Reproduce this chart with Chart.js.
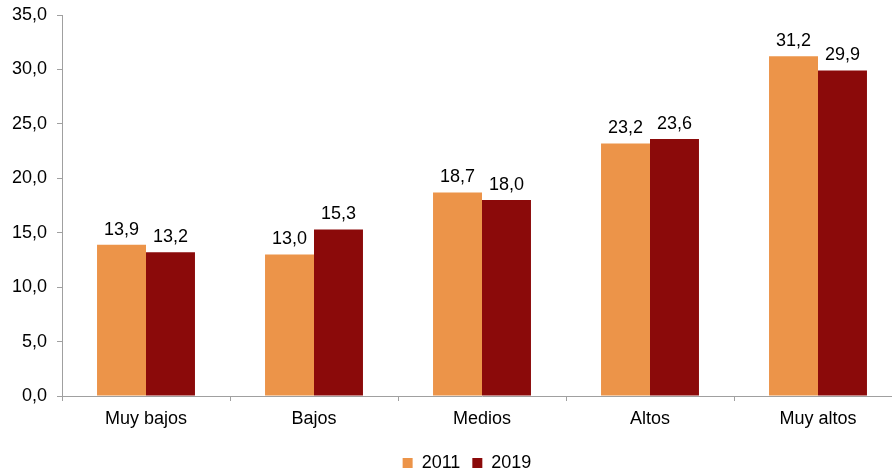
<!DOCTYPE html>
<html>
<head>
<meta charset="utf-8">
<script src="https://cdn.jsdelivr.net/npm/chart.js@4"></script>
<style>
  html, body { margin: 0; padding: 0; background: #fff; overflow: hidden; }
  #wrap { width: 926px; height: 473px; }
</style>
</head>
<body>
<div id="wrap"><canvas id="chart" width="926" height="473"></canvas></div>
<script>
// datos
const categorias = ['Muy bajos', 'Bajos', 'Medios', 'Altos', 'Muy altos'];
const serie2011 = [13.9, 13.0, 18.7, 23.2, 31.2];
const serie2019 = [13.2, 15.3, 18.0, 23.6, 29.9];
const ticksY = [0, 5, 10, 15, 20, 25, 30, 35];

const fmt = v => Number(v).toFixed(1).replace('.', ',');
const FONT = 'Liberation Sans, Arial, sans-serif';

// etiquetas encima de cada barra
const etiquetas = {
  id: 'etiquetas',
  afterLayout(chart) {
    // leyenda algo desplazada a la derecha, como en el original
    chart.legend.left += 16;
    chart.legend.right += 16;
  },
  afterDatasetsDraw(chart) {
    const ctx = chart.ctx;
    ctx.save();
    ctx.font = '18px ' + FONT;
    ctx.fillStyle = '#000';
    ctx.textAlign = 'center';
    ctx.textBaseline = 'bottom';
    chart.data.datasets.forEach((ds, i) => {
      chart.getDatasetMeta(i).data.forEach((el, j) => {
        ctx.fillText(fmt(ds.data[j]), el.x, el.y - 6);
      });
    });
    ctx.restore();
  }
};

new Chart(document.getElementById('chart'), {
  type: 'bar',
  data: {
    labels: categorias,
    datasets: [
      { label: '2011', data: serie2011, backgroundColor: '#EC9449' },
      { label: '2019', data: serie2019, backgroundColor: '#8B0A0A' }
    ]
  },
  options: {
    responsive: false, animation: false,
    categoryPercentage: 0.583, barPercentage: 1.0,
    layout: { padding: { top: 15, right: 24, bottom: -9, left: 0 } },
    scales: {
      x: {
        grid: { display: true, drawOnChartArea: false, offset: true, tickLength: 5, color: '#A0A0A0' },
        border: { color: '#A0A0A0' },
        ticks: { font: { family: FONT, size: 18 }, color: '#000', padding: 7 },
        afterFit: s => { s.height = 46; }
      },
      y: {
        min: 0, max: 35,
        afterBuildTicks: s => { s.ticks = ticksY.map(v => ({ value: v })); },
        grid: { display: true, drawOnChartArea: false, tickLength: 5, color: '#A0A0A0' },
        border: { color: '#A0A0A0' },
        ticks: { font: { family: FONT, size: 18 }, color: '#000', padding: 10, callback: v => fmt(v) },
        afterFit: s => { s.width = 62; s.paddingTop = 0; }
      }
    },
    plugins: {
      legend: {
        position: 'bottom',
        labels: { boxWidth: 10, boxHeight: 10, padding: 12, font: { family: FONT, size: 18 }, color: '#000' }
      },
      tooltip: { enabled: false }
    }
  },
  plugins: [etiquetas]
});
</script>
</body>
</html>
